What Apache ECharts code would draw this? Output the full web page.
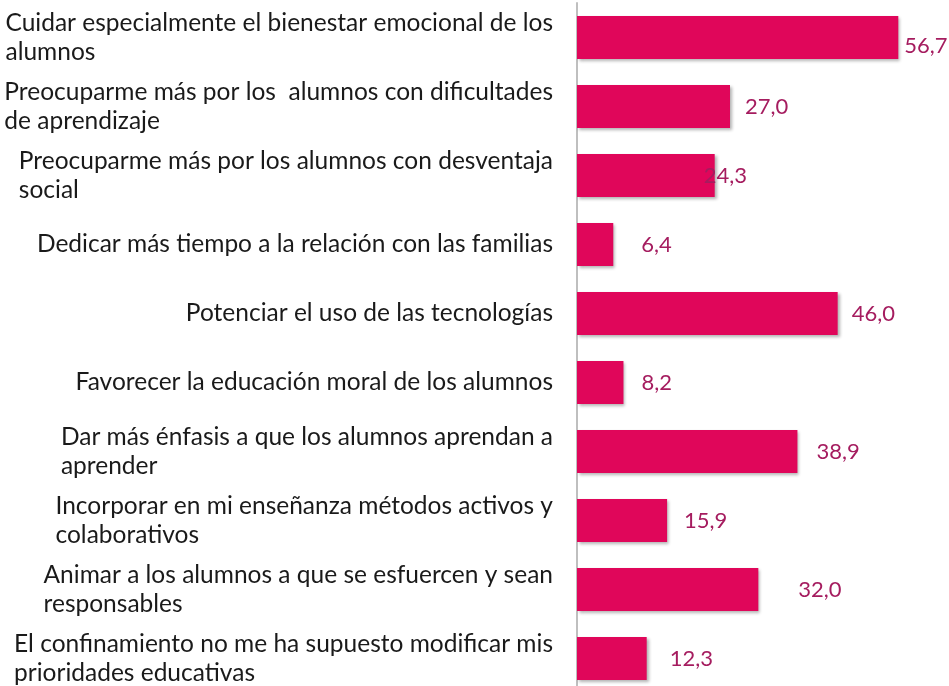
<!DOCTYPE html>
<html>
<head>
<meta charset="utf-8">
<script src="https://cdn.jsdelivr.net/npm/echarts@6/dist/echarts.min.js"></script>
<style>
  html, body { margin: 0; padding: 0; background: #fff; }
  #chart { width: 949px; height: 686px; }
</style>
</head>
<body>
<div id="chart"></div>
<script>
// categorias (con saltos de linea como en el original)
var categorias = [
  'Cuidar especialmente el bienestar emocional de los\nalumnos',
  'Preocuparme más por los  alumnos con dificultades\nde aprendizaje',
  'Preocuparme más por los alumnos con desventaja\nsocial',
  'Dedicar más tiempo a la relación con las familias',
  'Potenciar el uso de las tecnologías',
  'Favorecer la educación moral de los alumnos',
  'Dar más énfasis a que los alumnos aprendan a\naprender',
  'Incorporar en mi enseñanza métodos activos y\ncolaborativos',
  'Animar a los alumnos a que se esfuercen y sean\nresponsables',
  'El confinamiento no me ha supuesto modificar mis\nprioridades educativas'
]
// porcentajes
var valores = [56.7, 27.0, 24.3, 6.4, 46.0, 8.2, 38.9, 15.9, 32.0, 12.3]

// desplazamiento de las etiquetas (estilo, no datos)
var desplLabel = [[6, 8], [15, 0], [-11, 0], [28, 0], [14, 0], [18, 0], [19, 0], [17, 0], [40, 0], [23, 0]]

var chart = echarts.init(document.getElementById('chart'))

var option = {
  animation: false,
  grid: {
    left: 577,
    top: 3,
    width: 340,
    height: 690,
    outerBoundsMode: 'none',
    containLabel: false
  },
  xAxis: {
    type: 'value',
    min: 0,
    max: 60,
    show: false
  },
  yAxis: {
    type: 'category',
    inverse: true,
    data: categorias,
    axisLine: { show: true, lineStyle: { color: '#bfbfbf', width: 2 } },
    axisTick: { show: false },
    axisLabel: {
      margin: 24,
      align: 'right',
      formatter: function (v) {
        return v.split('\n').map(function (l) { return '{t|' + l + '}' }).join('\n')
      },
      rich: {
        t: {
          align: 'left',
          fontFamily: 'Lato',
          fontSize: 24.5,
          lineHeight: 29,
          color: '#1a1a1a'
        }
      }
    }
  },
  series: [{
    type: 'bar',
    barWidth: 43,
    itemStyle: {
      color: '#e0065a',
      shadowColor: 'rgba(0,0,0,0.3)',
      shadowBlur: 3,
      shadowOffsetX: 2,
      shadowOffsetY: 2
    },
    data: valores.map(function (v, i) {
      return {
        value: v,
        label: { offset: desplLabel[i] }
      }
    }),
    label: {
      show: true,
      position: 'right',
      distance: 0,
      fontFamily: 'Lato',
      fontSize: 22,
      color: '#a51c5f',
      formatter: function (p) { return p.value.toFixed(1).replace('.', ',') }
    }
  }]
}

chart.setOption(option)
</script>
</body>
</html>
